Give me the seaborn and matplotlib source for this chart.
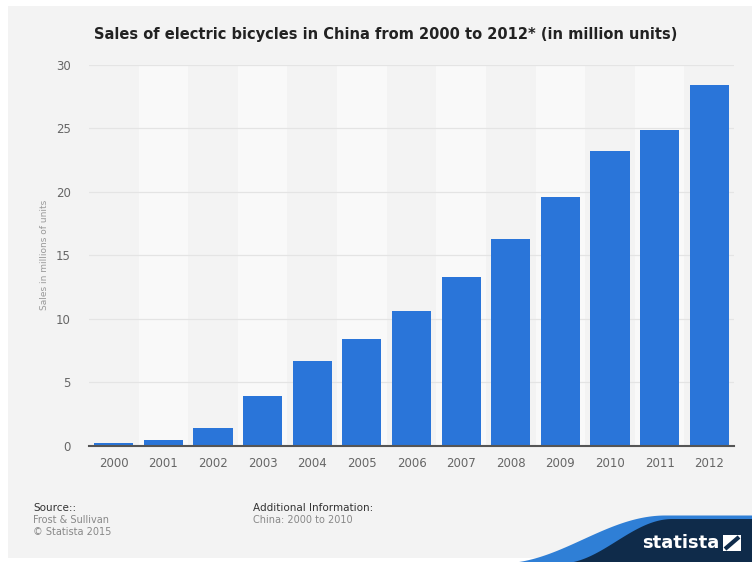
import matplotlib
matplotlib.use("Agg")
import matplotlib.pyplot as plt
import seaborn as sns
import pandas as pd
import numpy as np

years = ["2000", "2001", "2002", "2003", "2004", "2005", "2006",
         "2007", "2008", "2009", "2010", "2011", "2012"]
sales = [0.2, 0.45, 1.4, 3.9, 6.7, 8.4, 10.6, 13.3, 16.3, 19.6, 23.2, 24.9, 28.4]
yticks = [0, 5, 10, 15, 20, 25, 30]

title = "Sales of electric bicycles in China from 2000 to 2012* (in million units)"
ylabel = "Sales in millions of units"

sns.set_theme(style="white")
plt.rcParams["font.family"] = ["DejaVu Sans"]

W, H = 752, 562
fig = plt.figure(figsize=(W / 100, H / 100), dpi=100, facecolor="white")

# background panel
bg = fig.add_axes([0, 0, 1, 1], zorder=-10)
bg.set_xlim(0, W)
bg.set_ylim(H, 0)
bg.axis("off")
bg.add_patch(plt.Rectangle((8, 6), W - 8, 552, color="#f3f3f3", lw=0))

# statista wave
xs = np.linspace(480, W, 300)
def wave(x, top, start, end):
    t = np.clip((x - start) / (end - start), 0, 1)
    s = 0.5 - 0.5 * np.cos(np.pi * t)
    return 563 - (563 - top) * s
y_light = wave(xs, top=515, start=500, end=665)
y_dark = wave(xs, top=518.5, start=560, end=672)
bg.fill_between(xs, y_light, 563, color="#2f7fd6", lw=0)
bg.fill_between(xs, y_dark, 563, color="#0f2b4a", lw=0)
bg.text(681, 543.5, "statista", color="white", fontsize=13, fontweight="bold",
        ha="center", va="center")
bg.add_patch(plt.Rectangle((723, 535), 18, 16, color="white", lw=0))
bg.plot([725, 739], [549, 537], color="#0f2b4a", lw=3, solid_capstyle="butt")

# main axes
ax = fig.add_axes([89 / W, 1 - 446 / H, (734 - 89) / W, (446 - 64.7) / H])
ax.set_facecolor("#f3f3f3")
for i in range(len(years)):
    if i % 2 == 1:
        ax.axvspan(i - 0.5, i + 0.5, color="#f9f9f9", lw=0, zorder=0)

df = pd.DataFrame({"year": years, "sales": sales})
sns.barplot(data=df, x="year", y="sales", color="#2a75d9", width=0.79,
            saturation=1, linewidth=0, ax=ax, zorder=3)

ax.set_xlim(-0.5, len(years) - 0.5)
ax.set_ylim(0, 30)
ax.set_yticks(yticks)
ax.set_yticklabels([str(v) for v in yticks])
ax.yaxis.grid(True, color="#e4e4e4", lw=0.9, zorder=1)
ax.set_axisbelow(True)
for s in ["top", "right", "left"]:
    ax.spines[s].set_visible(False)
ax.spines["bottom"].set_color("#555555")
ax.spines["bottom"].set_linewidth(1.5)
ax.spines["bottom"].set_zorder(4)
ax.tick_params(axis="both", length=0, colors="#666666", labelsize=8.5)
ax.tick_params(axis="y", pad=13)
ax.tick_params(axis="x", pad=8)
ax.set_xlabel("")
ax.set_ylabel(ylabel, fontsize=6.5, color="#999999", labelpad=5)

fig.text(386 / W, 1 - 35 / H, title, ha="center", va="center",
         fontsize=10.5, fontweight="bold", color="#222222")

fig.text(33 / W, 1 - 508 / H, "Source::", fontsize=7.5, color="#333333", va="center")
fig.text(33 / W, 1 - 520 / H, "Frost & Sullivan", fontsize=7, color="#888888", va="center")
fig.text(33 / W, 1 - 532 / H, "\u00a9 Statista 2015", fontsize=7, color="#888888", va="center")
fig.text(253 / W, 1 - 508 / H, "Additional Information:", fontsize=7.5, color="#333333", va="center")
fig.text(253 / W, 1 - 520 / H, "China: 2000 to 2010", fontsize=7, color="#888888", va="center")

fig.savefig("out.png", dpi=100, facecolor="white")
